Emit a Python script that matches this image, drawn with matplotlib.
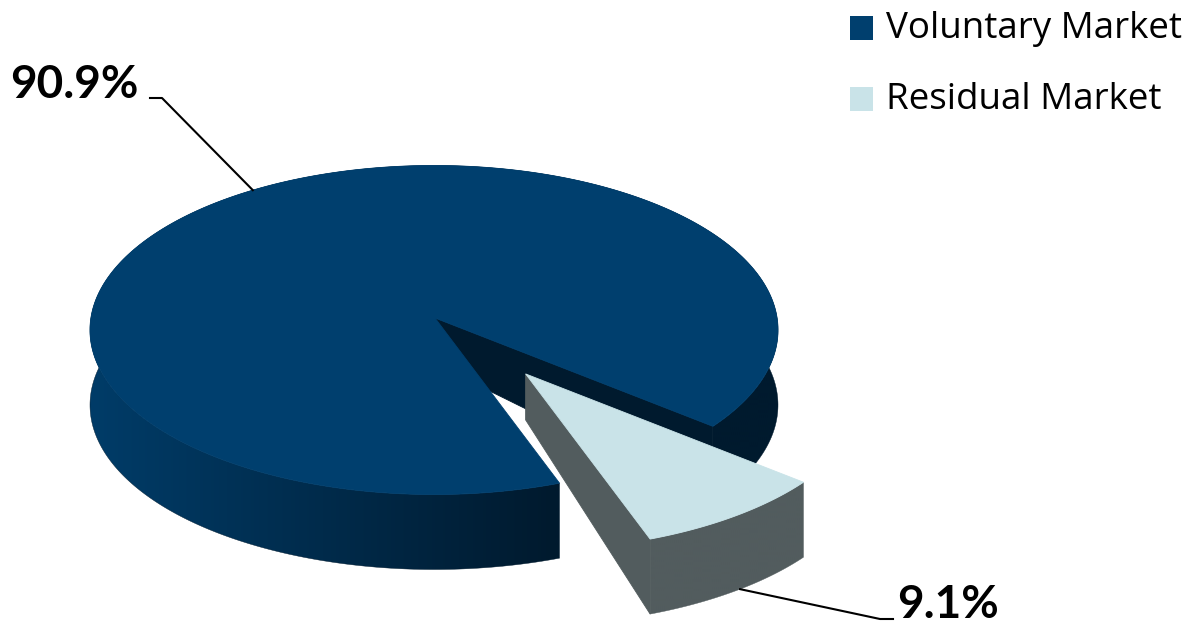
import numpy as np
import matplotlib.pyplot as plt
from matplotlib.patches import Polygon, Rectangle

# данные
labels = ["Voluntary Market", "Residual Market"]
shares = [90.9, 9.1]
pct_labels = ["90.9%", "9.1%"]

top_colors = ["#003f6e", "#c9e3e8"]
wall_light = [np.array([0, 60, 104]) / 255, np.array([82, 92, 94]) / 255]
wall_dark = [np.array([0, 26, 46]) / 255, np.array([82, 92, 94]) / 255]
cut_colors = ["#001a2e", "#525c5e"]

# геометрия «объёмного» круга в пикселях
CX, CY = 434, 330
RX, RY = 344, 164.5
APEX = (435, 318)
DEPTH = 75
APEX_DEPTH = 46
START = 291.4  # угол начала первого сектора, по часовой
EXPLODE = [0.0, 0.43]


def rim(t, off=(0, 0), d=0):
    t = np.radians(t)
    return CX + RX * np.cos(t) + off[0], CY - RY * np.sin(t) + off[1] + d


fig = plt.figure(figsize=(11.99, 6.27), dpi=100)
ax = fig.add_axes([0, 0, 1, 1])
ax.set_xlim(0, 1199)
ax.set_ylim(627, 0)
ax.axis('off')

# границы секторов (по часовой от START)
bounds = []
a = START
for v in shares:
    span = 360 * v / sum(shares)
    bounds.append((a - span, a))
    a -= span
lo, hi = bounds[1]
if hi > 180:
    bounds[1] = (lo - 360, hi - 360)

mids = [(b0 + b1) / 2 for b0, b1 in bounds]

for k, (b0, b1) in enumerate(bounds):
    m = mids[k]
    off = (EXPLODE[k] * RX * np.cos(np.radians(m)), -EXPLODE[k] * RY * np.sin(np.radians(m)))
    ap = (APEX[0] + off[0], APEX[1] + off[1])

    # внешняя стенка: один многоугольник, залитый горизонтальным градиентом
    ts = np.linspace(b0, b1, 400)
    xt, yt = rim(ts, off)
    wall_pts = list(zip(xt, yt)) + list(zip(xt[::-1], yt[::-1] + DEPTH))
    wall = Polygon(wall_pts, closed=True, fc='none', ec='none')
    ax.add_patch(wall)
    gx = np.linspace(0, 1199, 600)
    f = np.clip(((gx - CX - off[0]) / RX + 1) / 1.35, 0, 1)
    grad = wall_light[k][None, :] * (1 - f[:, None]) + wall_dark[k][None, :] * f[:, None]
    im = ax.imshow(grad[None, :, :], extent=(0, 1199, 627, 0), aspect='auto',
                   interpolation='bilinear', zorder=1)
    im.set_clip_path(wall)
    ax.add_patch(Polygon(wall_pts, closed=True, fc='none', ec=tuple(wall_dark[k]), lw=0.3, zorder=1))

    # видимая грань разреза
    xr, yr = rim(b0, off)
    ax.add_patch(Polygon([ap, (xr, yr), (xr, yr + DEPTH), (ap[0], ap[1] + APEX_DEPTH)],
                         closed=True, fc=cut_colors[k], ec=cut_colors[k], lw=0.6, zorder=1))

    # верхняя грань
    tt = np.linspace(b0, b1, 400)
    xs, ys = rim(tt, off)
    pts = [ap] + list(zip(xs, ys))
    ax.add_patch(Polygon(pts, closed=True, fc=top_colors[k], ec=top_colors[k], lw=0.6, zorder=1))

ax.set_xlim(0, 1199)
ax.set_ylim(627, 0)

# подписи с выносками
x, y = rim(mids[0] - 6)
ax.plot([150, 162, x], [98, 98, y], color='black', lw=1.5, zorder=3)
ax.text(10, 98, pct_labels[0], fontsize=33, fontweight='bold', family='Lato',
        ha='left', va='baseline', zorder=3)

m = mids[1]
off = (EXPLODE[1] * RX * np.cos(np.radians(m)), -EXPLODE[1] * RY * np.sin(np.radians(m)))
x, y = rim(m + 1, off, DEPTH)
ax.plot([x, 880, 893], [y, 619, 619], color='black', lw=1.5, zorder=3)
ax.text(897, 626, pct_labels[1], fontsize=33, fontweight='bold', family='Lato',
        ha='left', va='bottom', zorder=3)

# легенда
for i, lab in enumerate(labels):
    y0 = 16 + i * 71
    ax.add_patch(Rectangle((850, y0), 23, 24, fc=top_colors[i], ec='none', zorder=3))
    ax.text(886, y0 + 22, lab, fontsize=26.5, family='Open Sans', ha='left', va='baseline', zorder=3)

fig.savefig('out.png', dpi=100)
